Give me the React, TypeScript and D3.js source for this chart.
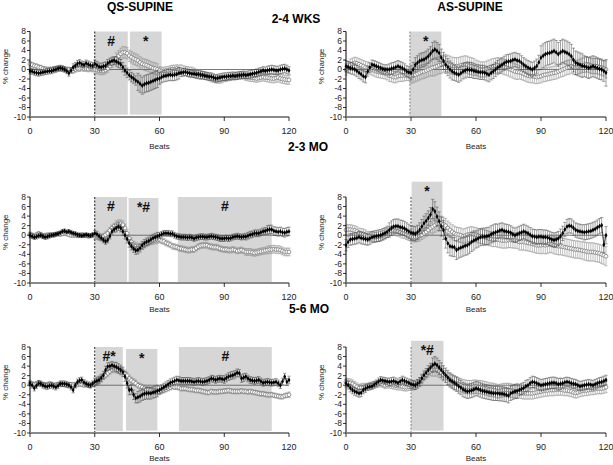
import React from 'react';
import * as d3 from 'd3';

// Beat index (x categories)
const beats = d3.range(0, 121);
const yTicks = [8, 6, 4, 2, 0, -2, -4, -6, -8, -10];
const xTicks = [0, 30, 60, 90, 120];

const columnTitles = ['QS-SUPINE', 'AS-SUPINE'];
const rowTitles = ['2-4 WKS', '2-3 MO', '5-6 MO'];

// ---- QS-SUPINE 2-4 WKS ----
const qs24Black = [-0.3,-0.4,-0.6,-0.7,-0.8,-0.7,-0.6,-0.5,-0.4,-0.3,-0.3,-0.1,0.0,0.2,0.3,0.2,0.0,-0.3,-0.8,-0.2,0.5,0.8,1.2,1.4,1.1,1.0,1.3,1.1,0.9,0.8,1.2,0.9,0.6,0.5,0.7,0.8,1.3,1.6,1.8,1.9,1.7,1.4,1.1,0.5,-0.2,-0.7,-1.2,-1.6,-1.9,-2.3,-2.6,-3.0,-3.4,-3.1,-2.9,-2.8,-2.6,-2.4,-2.2,-2.0,-1.9,-1.6,-1.4,-1.3,-1.2,-1.1,-1.2,-1.1,-1.0,-0.8,-0.7,-0.6,-0.5,-0.7,-0.8,-0.9,-0.9,-1.0,-1.0,-1.1,-1.2,-1.3,-1.4,-1.5,-1.5,-1.7,-1.9,-1.8,-1.7,-1.6,-1.5,-1.5,-1.4,-1.4,-1.3,-1.4,-1.3,-1.2,-1.2,-1.1,-1.2,-1.1,-1.0,-0.9,-0.8,-0.7,-0.5,-0.4,-0.2,-0.3,-0.2,-0.1,0.0,-0.1,-0.2,-0.2,0.0,0.1,0.2,0.0,-0.2];
const qs24Open = [1.2,1.0,0.8,0.7,0.5,0.4,0.2,0.1,0.0,0.0,0.0,0.1,0.2,0.2,0.2,0.2,0.1,0.0,0.0,-0.1,-0.2,0.0,0.2,0.2,0.3,0.2,0.2,0.1,0.2,0.1,0.0,-0.1,-0.2,-0.3,-0.3,-0.1,0.2,0.7,1.2,1.8,2.3,2.8,3.3,3.6,3.6,3.4,2.9,2.6,2.3,2.1,1.9,1.5,1.2,1.0,0.9,0.7,0.5,0.3,0.2,0.0,-0.2,-0.3,-0.3,-0.2,-0.2,0.0,0.1,0.1,0.2,0.1,0.0,-0.2,-0.3,-0.4,-0.5,-0.5,-0.7,-0.9,-1.0,-1.1,-1.2,-1.3,-1.4,-1.6,-1.8,-1.9,-2.0,-2.1,-2.1,-2.0,-1.9,-1.8,-1.7,-1.6,-1.5,-1.4,-1.4,-1.3,-1.2,-1.3,-1.5,-1.6,-1.7,-1.7,-1.8,-1.9,-1.8,-1.7,-1.6,-1.7,-1.7,-1.8,-1.9,-1.9,-1.8,-1.7,-1.9,-2.0,-2.1,-2.2,-2.2];
const qs24BlackErr = [0.6,0.6,0.7,0.8,1.0,1.8,1.2,0.8,0.8,0.8,0.8,0.9,0.8];
const qs24OpenErr = [0.5,0.5,0.6,0.8,1.2,1.2,0.8,1.0,0.8,0.7,0.8,0.9,0.9];

// ---- AS-SUPINE 2-4 WKS ----
const as24Black = [0.7,0.5,0.3,0.2,0.0,-0.3,-0.7,-1.0,-1.4,-1.6,-0.4,0.4,1.0,0.9,0.7,0.5,0.3,0.1,0.0,0.0,0.0,0.2,0.3,0.5,0.7,0.5,0.3,0.0,-0.4,-0.6,-0.7,0.0,1.0,1.4,1.8,2.0,2.1,2.4,2.8,3.3,3.9,4.2,3.9,3.5,2.5,1.8,1.0,0.5,0.0,-0.4,-0.7,-0.9,-1.1,-0.8,-0.4,-0.2,0.0,-0.1,-0.1,-0.3,-0.4,-0.5,-0.6,-0.6,-0.7,-0.9,-1.1,-0.7,-0.4,0.0,0.4,0.7,1.0,1.3,1.6,1.7,1.8,2.0,2.1,1.9,1.8,1.4,1.0,0.7,0.4,0.2,0.0,0.3,0.7,1.5,2.5,2.9,3.2,3.4,3.5,3.7,3.9,3.6,3.2,3.6,3.9,3.7,3.5,3.2,2.8,2.0,1.4,1.2,1.0,0.8,0.7,0.5,0.3,0.5,0.7,0.5,0.3,0.1,0.0,-0.3,-0.7];
const as24Open = [0.0,0.5,1.0,1.2,1.4,1.3,1.1,0.9,0.7,0.5,0.4,0.2,0.0,-0.2,-0.4,-0.5,-0.6,-0.7,-0.8,-1.0,-1.3,-1.4,-1.6,-1.6,-1.4,-1.3,-1.3,-1.2,-1.1,-1.2,-1.4,-1.3,-1.1,-0.9,-0.7,-0.5,-0.4,-0.2,0.0,0.2,0.4,0.5,0.7,0.9,1.0,1.2,1.4,1.2,1.0,0.8,0.7,0.7,0.7,0.9,1.0,1.1,1.0,0.8,0.7,0.5,0.4,0.2,0.0,0.0,0.0,0.2,0.4,0.6,0.7,0.8,0.9,0.8,0.7,0.5,0.4,0.2,0.0,-0.2,-0.4,-0.5,-0.6,-0.7,-0.9,-1.1,-1.3,-1.4,-1.4,-1.5,-1.6,-1.5,-1.4,-1.2,-1.1,-1.0,-0.9,-0.8,-0.7,-0.6,-0.4,-0.2,0.0,0.2,0.4,0.5,0.7,0.5,0.4,0.5,0.7,0.9,1.0,1.1,1.0,0.8,0.7,0.7,0.7,0.5,0.4,0.2,0.0];
const as24BlackErr = [1.2,1.0,1.2,1.5,1.8,1.6,1.5,1.5,1.5,2.5,2.5,2.2,2.8];
const as24OpenErr = [1.2,1.2,1.2,1.5,1.8,1.8,1.6,1.6,1.4,1.4,1.5,1.6,1.8];

// ---- QS-SUPINE 2-3 MO ----
const qs23Black = [0.0,-0.2,-0.4,-0.3,-0.1,0.0,-0.2,-0.4,-0.3,-0.1,0.0,0.1,0.2,0.3,0.5,0.8,0.9,0.7,0.8,0.6,0.4,0.3,0.1,0.0,-0.1,0.0,0.1,0.0,-0.1,0.1,0.4,0.2,-0.2,-0.6,-1.0,-1.3,-1.0,-0.2,0.8,1.2,1.5,1.8,1.5,0.8,0.0,-0.8,-1.7,-2.3,-2.8,-3.2,-3.1,-2.7,-2.1,-1.7,-1.4,-1.2,-0.9,-0.6,-0.4,-0.2,0.0,0.2,0.4,0.4,0.4,0.3,0.3,0.0,-0.2,-0.3,-0.4,-0.4,-0.4,-0.5,-0.4,-0.5,-0.7,-0.5,-0.4,-0.3,-0.3,-0.4,-0.4,-0.3,-0.2,-0.3,-0.4,-0.5,-0.7,-0.7,-0.7,-0.6,-0.7,-0.6,-0.4,-0.3,-0.2,-0.3,-0.4,-0.3,-0.3,-0.1,0.1,0.2,0.4,0.4,0.4,0.6,0.8,0.9,1.1,1.2,1.2,0.9,0.8,0.7,0.8,0.6,0.5,0.7,0.8];
const qs23Open = [0.2,0.0,-0.2,0.1,0.3,0.1,-0.2,-0.1,0.0,0.0,0.1,0.0,0.2,0.3,0.2,0.3,0.4,0.3,0.1,0.0,0.0,0.0,-0.1,0.0,0.1,0.0,-0.1,-0.2,-0.1,0.0,-0.2,-0.3,-0.5,-0.4,-0.2,0.1,0.4,1.0,1.5,1.9,2.2,2.4,2.4,2.2,1.5,0.4,-0.7,-1.4,-2.1,-2.3,-2.4,-2.4,-2.3,-2.0,-1.7,-1.5,-1.3,-1.2,-1.1,-1.0,-1.0,-1.2,-1.3,-1.6,-1.8,-2.0,-2.3,-2.4,-2.5,-2.7,-2.8,-2.9,-3.0,-3.1,-3.1,-3.0,-3.0,-2.7,-2.4,-2.2,-2.1,-2.1,-2.1,-2.3,-2.4,-2.5,-2.5,-2.6,-2.8,-2.9,-3.0,-3.0,-3.1,-3.1,-3.0,-3.1,-3.3,-3.2,-3.1,-3.3,-3.5,-3.5,-3.5,-3.6,-3.7,-3.6,-3.5,-3.4,-3.3,-3.2,-3.1,-3.0,-3.0,-2.9,-3.0,-3.0,-3.1,-3.3,-3.5,-3.5,-3.5];
const qs23BlackErr = [0.5,0.4,0.4,0.6,0.8,0.8,0.6,0.6,0.6,0.6,0.7,0.9,0.9];
const qs23OpenErr = [0.5,0.4,0.4,0.6,0.8,0.7,0.6,0.6,0.6,0.6,0.7,0.8,0.8];

// ---- AS-SUPINE 2-3 MO ----
const as23Black = [-2.1,-1.4,-0.9,-0.8,-0.7,-0.6,-0.4,-0.6,-0.7,-0.8,-0.9,-0.7,-0.4,-0.3,-0.2,-0.1,0.0,0.2,0.4,0.7,1.1,1.5,1.8,1.9,1.9,1.7,1.6,1.4,1.1,0.8,0.5,0.4,0.3,0.6,1.1,1.8,2.5,3.0,3.6,4.3,5.5,5.0,3.9,2.9,1.8,1.1,-0.7,-1.7,-2.3,-2.4,-2.5,-3.1,-2.8,-2.6,-2.4,-2.2,-2.1,-1.8,-1.4,-1.1,-0.9,-0.7,-0.4,-0.3,-0.3,-0.2,-0.1,0.2,0.4,0.6,0.8,1.0,1.1,0.9,0.8,0.7,0.5,0.2,0.0,0.2,0.4,0.6,0.8,0.6,0.4,0.1,-0.2,-0.3,-0.4,-0.3,-0.3,-0.4,-0.4,-0.5,-0.7,-0.9,-1.0,-0.9,-0.7,-0.2,0.4,1.2,1.8,2.0,1.9,1.5,1.1,0.9,0.8,0.7,0.6,0.7,0.8,0.9,1.1,1.3,1.6,1.9,2.1,-2.0,0.0];
const as23Open = [1.1,1.2,1.2,1.1,1.0,0.8,0.5,0.4,0.3,0.1,-0.2,-0.2,-0.3,-0.4,-0.4,-0.3,-0.2,0.0,0.3,0.5,0.8,0.9,1.0,0.9,0.8,0.6,0.4,0.3,0.1,-0.1,-0.3,-0.4,-0.4,-0.3,-0.2,0.1,0.4,0.7,1.1,1.5,1.8,2.1,2.4,2.5,2.5,2.3,2.0,1.5,1.1,0.7,0.4,0.2,0.1,0.0,-0.2,-0.1,0.1,0.2,0.3,0.2,0.1,-0.1,-0.2,-0.3,-0.4,-0.5,-0.7,-0.8,-0.9,-0.9,-0.9,-1.0,-1.1,-1.1,-1.1,-1.0,-1.0,-1.1,-1.1,-1.2,-1.4,-1.4,-1.4,-1.5,-1.6,-1.7,-1.8,-1.9,-2.1,-2.1,-2.1,-2.0,-2.1,-2.0,-1.8,-1.9,-2.1,-2.2,-2.3,-2.3,-2.4,-2.5,-2.6,-2.7,-2.8,-2.9,-3.0,-3.0,-3.1,-3.2,-3.3,-3.4,-3.5,-3.5,-3.5,-3.6,-3.7,-3.8,-4.0,-4.2,-4.4];
const as23BlackErr = [1.2,1.2,1.5,1.5,2.0,2.0,1.8,1.5,1.5,1.5,1.5,1.6,1.8];
const as23OpenErr = [1.0,1.0,1.0,1.0,1.5,1.5,1.5,1.6,1.7,1.8,1.8,1.9,2.0];

// ---- QS-SUPINE 5-6 MO ----
const qs56Black = [0.4,0.0,-0.6,-0.1,0.4,0.3,0.0,-0.2,-0.3,-0.1,0.0,-0.2,-0.4,-0.1,0.3,0.3,0.3,0.2,0.0,-0.4,-1.0,0.0,0.7,1.0,1.1,0.6,0.3,0.1,0.0,0.3,0.7,0.9,1.1,1.5,2.1,3.2,3.9,4.0,4.2,4.0,3.8,3.5,3.2,2.8,1.8,0.4,-1.0,-0.9,-2.0,-2.7,-2.5,-2.3,-2.0,-1.8,-1.7,-1.7,-1.7,-1.5,-1.4,-1.2,-1.0,-0.7,-0.4,-0.1,0.2,0.5,0.7,0.9,1.1,1.0,0.9,0.9,0.9,0.9,0.9,0.8,0.7,0.8,0.9,0.8,0.7,0.8,0.9,1.1,1.4,1.3,1.1,1.3,1.4,1.3,1.2,1.5,1.8,2.0,2.1,2.3,2.6,2.5,1.4,1.6,1.8,1.4,1.1,1.0,0.9,1.0,1.1,0.8,0.5,0.6,0.7,0.6,0.5,0.6,0.7,0.4,0.0,0.8,1.8,0.7,1.1];
const qs56Open = [0.4,0.3,0.2,0.4,0.5,0.3,0.2,0.1,0.2,0.3,0.2,0.0,0.1,0.2,0.3,0.2,0.1,0.0,0.1,0.2,0.1,0.0,0.1,0.2,0.1,0.0,0.1,0.0,-0.1,0.1,0.5,0.8,1.1,1.4,1.8,2.1,2.5,2.9,3.2,3.3,3.3,3.2,3.2,2.9,2.5,2.0,1.4,1.0,0.7,0.4,0.0,-0.2,-0.4,-0.6,-0.9,-0.9,-1.0,-1.2,-1.3,-1.4,-1.5,-1.3,-1.1,-0.9,-0.7,-0.5,-0.3,-0.4,-0.4,-0.5,-0.7,-0.7,-0.7,-0.8,-0.9,-0.9,-1.0,-1.1,-1.1,-1.2,-1.3,-1.4,-1.5,-1.5,-1.3,-1.4,-1.4,-1.4,-1.3,-1.3,-1.2,-1.2,-1.1,-1.2,-1.3,-1.3,-1.3,-1.3,-1.2,-1.3,-1.3,-1.4,-1.3,-1.4,-1.5,-1.6,-1.7,-1.8,-1.8,-1.9,-2.0,-2.0,-2.0,-2.1,-2.2,-2.3,-2.4,-2.4,-2.2,-2.1,-2.0];
const qs56BlackErr = [0.6,0.6,0.6,0.8,1.0,1.2,0.8,0.7,0.7,0.8,0.7,0.7,0.8];
const qs56OpenErr = [0.4,0.4,0.4,0.6,0.7,0.6,0.5,0.5,0.5,0.5,0.5,0.5,0.6];

// ---- AS-SUPINE 5-6 MO ----
const as56Black = [0.4,0.0,-0.6,-1.0,-1.3,-1.5,-1.7,-1.6,-1.0,-0.7,-0.4,-0.3,-0.2,0.1,0.4,0.8,1.1,1.0,0.9,0.8,0.7,0.8,0.9,0.7,0.5,0.8,1.1,0.9,0.7,0.5,0.2,0.1,0.0,0.3,0.7,1.4,2.1,2.6,3.2,3.7,4.2,4.5,4.2,3.7,3.2,2.6,2.1,1.6,1.1,0.8,0.5,0.2,-0.2,-0.5,-0.9,-1.1,-1.3,-1.2,-1.1,-0.9,-0.7,-0.8,-1.0,-1.2,-1.3,-1.4,-1.5,-1.6,-1.7,-1.7,-1.7,-1.8,-1.8,-1.9,-2.0,-2.2,-1.7,-1.5,-1.3,-1.2,-1.0,-0.8,-0.6,-0.2,0.0,0.4,0.7,0.6,0.4,0.2,0.0,0.1,0.2,0.3,0.4,0.5,0.5,0.4,0.2,0.3,0.4,0.6,0.7,0.6,0.4,0.3,0.2,0.0,-0.2,-0.1,0.0,0.1,0.2,0.1,0.0,0.2,0.4,0.6,0.7,0.9,1.1];
const as56Open = [0.7,0.6,0.5,0.3,0.0,-0.3,-0.6,-0.5,-0.4,-0.4,-0.3,-0.1,0.0,0.1,0.2,0.3,0.4,0.2,0.0,0.1,0.2,0.1,0.0,-0.1,-0.2,-0.2,-0.3,-0.4,-0.4,-0.3,-0.2,-0.1,0.0,0.3,0.7,1.2,1.8,2.2,2.6,2.9,3.2,3.2,3.2,2.9,2.6,2.2,1.8,1.4,1.1,0.8,0.5,0.4,0.2,0.0,-0.2,-0.3,-0.4,-0.4,-0.4,-0.3,-0.3,-0.4,-0.4,-0.5,-0.6,-0.7,-0.9,-0.9,-1.0,-1.1,-1.3,-1.2,-1.1,-1.0,-1.0,-1.0,-1.1,-1.2,-1.3,-1.4,-1.5,-1.6,-1.7,-1.7,-1.7,-1.7,-1.7,-1.6,-1.5,-1.4,-1.3,-1.2,-1.1,-1.1,-1.0,-1.0,-1.0,-0.9,-0.9,-0.9,-1.0,-1.1,-1.1,-1.2,-1.3,-1.5,-1.6,-1.5,-1.3,-1.2,-1.1,-1.1,-1.0,-0.9,-0.9,-0.8,-0.7,-0.7,-0.7,-0.6,-0.4];
const as56BlackErr = [0.8,0.7,0.8,0.9,1.5,1.5,1.5,1.5,1.2,1.2,1.0,1.0,1.0];
const as56OpenErr = [0.8,0.7,0.8,0.9,1.3,1.4,1.4,1.4,1.2,1.2,1.1,1.1,1.1];

// Shaded significance windows: [start beat, end beat, label, top value, bottom value]
const qs24Regions: [number, number, string, number, number][] = [[30, 45.3, '#', 8, -9.5], [46.3, 61, '*', 8, -9.5]];
const as24Regions: [number, number, string, number, number][] = [[29.5, 44, '*', 8, -10]];
const qs23Regions: [number, number, string, number, number][] = [[30, 45, '#', 8, -10], [45.7, 59.5, '*#', 7.8, -10], [68.5, 112, '#', 8, -10]];
const as23Regions: [number, number, string, number, number][] = [[30.3, 44.5, '*', 11.2, -10]];
const qs56Regions: [number, number, string, number, number][] = [[30.3, 43, '#*', 8, -9.6], [44.5, 59, '*', 7.6, -9.5], [69, 112, '#', 8, -9.6]];
const as56Regions: [number, number, string, number, number][] = [[30, 45, '*#', 9.3, -9.5]];

const panels = [
  { col: 0, row: 0, black: qs24Black, open: qs24Open, bErr: qs24BlackErr, oErr: qs24OpenErr, regions: qs24Regions, dashX: 30, dashColor: '#000' },
  { col: 1, row: 0, black: as24Black, open: as24Open, bErr: as24BlackErr, oErr: as24OpenErr, regions: as24Regions, dashX: 29.5, dashColor: '#777' },
  { col: 0, row: 1, black: qs23Black, open: qs23Open, bErr: qs23BlackErr, oErr: qs23OpenErr, regions: qs23Regions, dashX: 30, dashColor: '#000' },
  { col: 1, row: 1, black: as23Black, open: as23Open, bErr: as23BlackErr, oErr: as23OpenErr, regions: as23Regions, dashX: 30, dashColor: '#333' },
  { col: 0, row: 2, black: qs56Black, open: qs56Open, bErr: qs56BlackErr, oErr: qs56OpenErr, regions: qs56Regions, dashX: 30, dashColor: '#000' },
  { col: 1, row: 2, black: as56Black, open: as56Open, bErr: as56BlackErr, oErr: as56OpenErr, regions: as56Regions, dashX: 30, dashColor: '#777' },
];

const colX = [[30, 289], [346, 606]];
const rowY = [[31.5, 117], [197, 283], [347, 433]];
const beatsLabelY = [149, 312, 461];
const FONT = '"Liberation Sans", Arial, sans-serif';

function Panel({ p }: { p: typeof panels[number] }) {
  const [x0, x1] = colX[p.col];
  const [yT, yB] = rowY[p.row];
  const x = d3.scaleLinear().domain([0, 120]).range([x0, x1]);
  const y = d3.scaleLinear().domain([-10, 8]).range([yB, yT]);
  const diamond = d3.symbol(d3.symbolDiamond, 7)() as string;
  const lineB = d3.line<number>().x((_, i) => x(beats[i])).y((v) => y(v));
  const err = (arr: number[], i: number) => arr[Math.min(arr.length - 1, Math.floor(i / 10))];
  const cap = 1.6;
  return (
    <g>
      {p.regions.map(([a, b, lab, top, bot], k) => (
        <g key={k}>
          <rect x={x(a)} y={y(top)} width={x(b) - x(a)} height={y(bot) - y(top)} fill="#d6d6d6" />
          <text x={(x(a) + x(b)) / 2} y={y(top) + 14} textAnchor="middle" fontSize={14} fontWeight="bold" fontFamily={FONT} fill="#111">{lab}</text>
        </g>
      ))}
      <line x1={x(p.dashX)} x2={x(p.dashX)} y1={y(8)} y2={yB} stroke={p.dashColor} strokeWidth={0.9} strokeDasharray="2,1.5" />
      {/* zero line */}
      <line x1={x0} x2={x1} y1={y(0)} y2={y(0)} stroke="#555" strokeWidth={0.8} />
      {/* open series */}
      <path d={lineB(p.open) || ''} fill="none" stroke="#999" strokeWidth={0.5} />
      {p.open.map((v, i) => {
        const e = err(p.oErr, i);
        const cx = x(beats[i]);
        return (
          <g key={'oe' + i} stroke="#8c8c8c" strokeWidth={0.55}>
            <line x1={cx} x2={cx} y1={y(v - e)} y2={y(v + e)} />
            <line x1={cx - cap} x2={cx + cap} y1={y(v + e)} y2={y(v + e)} />
            <line x1={cx - cap} x2={cx + cap} y1={y(v - e)} y2={y(v - e)} />
          </g>
        );
      })}
      {p.open.map((v, i) => (
        <circle key={'o' + i} cx={x(beats[i])} cy={y(v)} r={1.9} fill="#fff" stroke="#707070" strokeWidth={0.7} />
      ))}
      {/* black series */}
      {p.black.map((v, i) => {
        const e = err(p.bErr, i);
        const cx = x(beats[i]);
        return (
          <g key={'be' + i} stroke="#333" strokeWidth={0.45}>
            <line x1={cx} x2={cx} y1={y(v - e)} y2={y(v + e)} />
            <line x1={cx - cap} x2={cx + cap} y1={y(v + e)} y2={y(v + e)} />
            <line x1={cx - cap} x2={cx + cap} y1={y(v - e)} y2={y(v - e)} />
          </g>
        );
      })}
      <path d={lineB(p.black) || ''} fill="none" stroke="#000" strokeWidth={0.7} />
      {p.black.map((v, i) => (
        <path key={'b' + i} d={diamond} transform={`translate(${x(beats[i])},${y(v)})`} fill="#000" />
      ))}
      {/* y axis */}
      <line x1={x0} x2={x0} y1={yT} y2={yB} stroke="#000" strokeWidth={1} />
      {yTicks.map((t) => (
        <g key={'yt' + t}>
          <line x1={x0 - 3} x2={x0} y1={y(t)} y2={y(t)} stroke="#000" strokeWidth={0.8} />
          <text x={x0 - 4} y={y(t)} dy="0.35em" textAnchor="end" fontSize={8.5} fontFamily={FONT} fill="#222">{t}</text>
        </g>
      ))}
      {/* x axis */}
      <line x1={x0} x2={x1} y1={yB} y2={yB} stroke="#8a8a8a" strokeWidth={2} />
      {xTicks.map((t) => (
        <g key={'xt' + t}>
          <line x1={x(t)} x2={x(t)} y1={yB} y2={yB + 4} stroke="#000" strokeWidth={0.8} />
          <text x={x(t)} y={yB + 17} textAnchor="middle" fontSize={9} fontFamily={FONT} fill="#222">{t}</text>
        </g>
      ))}
      <text x={(x0 + x1) / 2} y={beatsLabelY[p.row]} textAnchor="middle" fontSize={8} fontFamily={FONT} fill="#222">Beats</text>
      <text transform={`translate(${x0 - 22},${y(0) - 3}) rotate(-90)`} textAnchor="middle" fontSize={8} fontFamily={FONT} fill="#222">% change</text>
    </g>
  );
}

export default function App() {
  return (
    <svg width={613} height={465} style={{ position: 'absolute', left: 0, top: 0, background: '#fff' }}>
      <rect width={613} height={465} fill="#fff" />
      <text x={140} y={11} textAnchor="middle" fontSize={12} fontWeight="bold" fontFamily={FONT}>{columnTitles[0]}</text>
      <text x={470} y={11} textAnchor="middle" fontSize={12} fontWeight="bold" fontFamily={FONT}>{columnTitles[1]}</text>
      <text x={296} y={23} textAnchor="middle" fontSize={12} fontWeight="bold" fontFamily={FONT}>{rowTitles[0]}</text>
      <text x={308} y={151} textAnchor="middle" fontSize={12} fontWeight="bold" fontFamily={FONT}>{rowTitles[1]}</text>
      <text x={309} y={313} textAnchor="middle" fontSize={12} fontWeight="bold" fontFamily={FONT}>{rowTitles[2]}</text>
      {panels.map((p, i) => <Panel key={i} p={p} />)}
    </svg>
  );
}
